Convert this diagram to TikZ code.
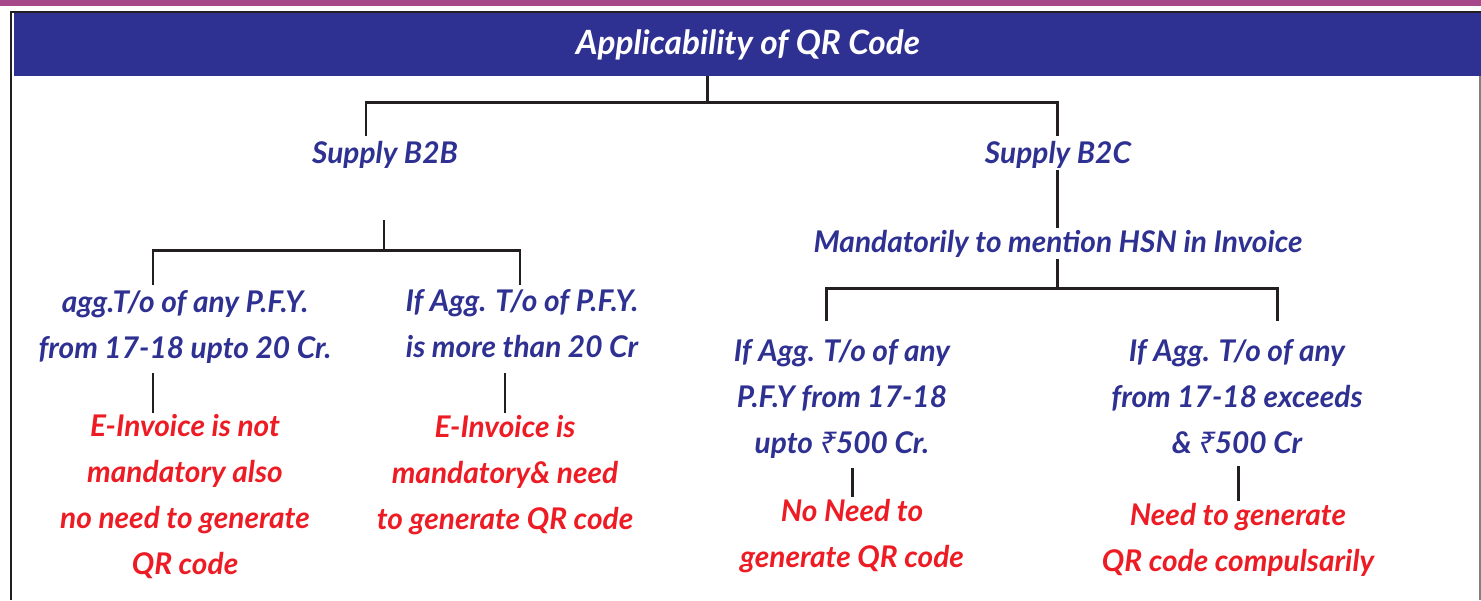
\documentclass[tikz,border=0pt]{standalone}
\usepackage{fontspec}
\setmainfont{Lato}
\newfontfamily\rupeefont{Noto Sans}
\usetikzlibrary{positioning,calc}
\definecolor{qrblue}{HTML}{2E3192}
\definecolor{qrred}{HTML}{ED1C24}
\definecolor{qrpink}{HTML}{A6488A}
\definecolor{qrline}{HTML}{231F20}
\newcommand{\inr}{{\rupeefont\bfseries\itshape ₹}}
\tikzset{
  head/.style={fill=qrblue, text=white, font=\fontsize{19}{22}\selectfont\bfseries\itshape, minimum width=29.38cm, minimum height=1.26cm, inner sep=0pt},
  cond/.style={text=qrblue, align=center, font=\fontsize{17}{26}\selectfont\bfseries\itshape, inner xsep=0pt, inner ysep=1pt, anchor=base},
  verdict/.style={cond, text=qrred},
  link/.style={draw=qrline, line width=1.7pt}
}

\begin{document}
\begin{tikzpicture}[x=0.02cm, y=-0.02cm]
  \useasboundingbox (0,0) rectangle (1481,600);
  \fill[qrpink] (0,0) rectangle (1481,6);
  \draw[qrline, line width=1.2pt] (11,600) -- (11,12) -- (1481,12);
  \draw[gray, line width=1pt] (1480,76) -- (1480,600);
  \node[head] (head) at (748,44.5) {Applicability of QR Code};

  % first level (base = last line)
  \node[cond] (b2b) at (385,163) {Supply B2B};
  \node[cond] (b2c) at (1058,163) {Supply B2C};
  \node[cond] (hsn) at (1058,252) {Mandatorily to mention HSN in Invoice};

  % turnover conditions
  \node[cond] (aggA) at (185,358) {agg.T/o of any P.F.Y.\\from 17-18 upto 20 Cr.};
  \node[cond] (aggB) at (522,357) {If Agg. T/o of P.F.Y.\\is more than 20 Cr};
  \node[cond] (aggC) at (842,453) {If Agg. T/o of any\\P.F.Y from 17-18\\upto \inr500 Cr.};
  \node[cond] (aggD) at (1237,453) {If Agg. T/o of any\\from 17-18 exceeds\\\& \inr500 Cr};

  % what follows
  \node[verdict] (resA) at (185,574) {E-Invoice is not\\mandatory also\\no need to generate\\QR code};
  \node[verdict] (resB) at (505,529) {E-Invoice is\\mandatory\& need\\to generate QR code};
  \node[verdict] (resC) at (852,567) {No Need to\\generate QR code};
  \node[verdict] (resD) at (1238,571) {Need to generate\\QR code compulsarily};

  \coordinate (root) at (707,102);
  \coordinate (jB2B) at (366,136);
  \coordinate (jB2C) at (1057,136);
  \coordinate (busA) at (384,250);
  \coordinate (jA) at (153,285);
  \coordinate (jB) at (520,285);
  \coordinate (busC) at (1057,288);
  \coordinate (jC) at (826,321);
  \coordinate (jD) at (1277,321);

  \draw[link] (head.south -| root) -- (root);
  \draw[link] (jB2B) |- (root) -| (jB2C);
  \draw[link] (busA) ++(0,-30) -- (busA);
  \draw[link] (jA) |- (busA) -| (jB);
  \draw[link] (b2c.south -| jB2C) -- (hsn.north -| jB2C);
  \draw[link] (hsn.south -| busC) -- (busC);
  \draw[link] (jC) |- (busC) -| (jD);
  % stems start a little under the last baseline
  \draw[link] (aggA.base -| jA) ++(0,15) -- (resA.north -| jA);
  \draw[link] (aggB.base -| resB.north) ++(0,16) -- (resB.north);
  \draw[link] (aggC.base -| resC.north) ++(0,15) -- (resC.north);
  \draw[link] (aggD.base -| resD.north) ++(0,13) -- (resD.north);
\end{tikzpicture}
\end{document}
